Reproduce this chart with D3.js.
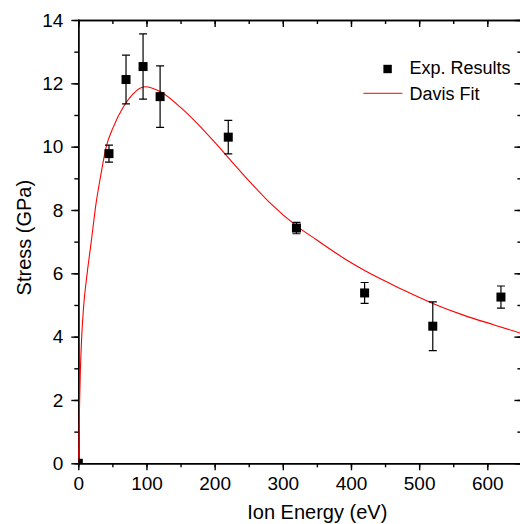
<!DOCTYPE html>
<html>
	<head>
		<meta charset="utf-8">
		<style type="text/css">
			body { margin: 0; background: #fff; font-family: "Liberation Sans", Arial, sans-serif; }
			.axis path, .axis line { stroke: black; stroke-width: 1.4; }
			.axis text { font-family: "Liberation Sans", Arial, sans-serif; font-size: 19px; fill: black; }
		</style>
		<title>Stress vs Ion Energy</title>
	</head>
	<body>
		<script src="https://cdn.jsdelivr.net/npm/d3@7"></script>
		<script>

// measured points (energy in eV, stress in GPa, error bar half-height)
var energy = [0, 45, 70, 95, 120, 220, 320, 420, 520, 620];
var stress = [0, 9.78, 12.12, 12.53, 11.58, 10.30, 7.43, 5.38, 4.33, 5.25];
var stressErr = [0, 0.27, 0.77, 1.03, 0.97, 0.53, 0.18, 0.33, 0.77, 0.35];

// Davis fit curve
var fitEnergy = [0, 1, 2, 3, 5, 8, 13, 19, 26, 33, 41, 51, 66, 80, 98, 120, 150, 175, 200, 225, 250, 280, 320, 350, 390, 420, 460, 480, 520, 565, 610, 650];
var fitStress = [0, 1.0, 2.0, 2.9, 4.0, 5.0, 6.0, 7.0, 8.2, 9.1, 10.0, 10.6, 11.25, 11.66, 11.89, 11.74, 11.24, 10.72, 10.14, 9.53, 8.93, 8.25, 7.50, 7.05, 6.47, 6.09, 5.65, 5.44, 5.05, 4.68, 4.37, 4.10];

var xTicks = [0, 100, 200, 300, 400, 500, 600];
var yTicks = [0, 2, 4, 6, 8, 10, 12, 14];
var legendLabels = ["Exp. Results", "Davis Fit"];

var margin = {top: 20, left: 78.3},
	width = 443.1,
	height = 443.3;

var x = d3.scaleLinear().domain([0, 650]).range([0, width]);
var y = d3.scaleLinear().domain([0, 14]).range([height, 0]);

var svg = d3.select('body').append('svg')
	.attr('width', 520)
	.attr('height', 524)
	.append('g')
		.attr('transform', `translate(${margin.left},${margin.top})`);

svg.append('clipPath').attr('id', 'plot-clip')
	.append('rect')
		.attr('width', width)
		.attr('height', height);

var minorX = d3.range(0, 651, 50);
var minorY = d3.range(0, 14.1, 1);

// bottom
svg.append('g').attr('class', 'axis')
	.attr('transform', `translate(0,${height})`)
	.call(d3.axisBottom(x).tickValues(minorX).tickSize(4).tickSizeOuter(0).tickFormat(''));
svg.append('g').attr('class', 'axis')
	.attr('transform', `translate(0,${height})`)
	.call(d3.axisBottom(x).tickValues(xTicks).tickSize(7).tickPadding(6).tickSizeOuter(0));
// top
svg.append('g').attr('class', 'axis')
	.call(d3.axisTop(x).tickValues(minorX).tickSize(-4).tickSizeOuter(0).tickFormat(''));
svg.append('g').attr('class', 'axis')
	.call(d3.axisTop(x).tickValues(xTicks).tickSize(-7).tickSizeOuter(0).tickFormat(''));
// left
svg.append('g').attr('class', 'axis')
	.call(d3.axisLeft(y).tickValues(minorY).tickSize(4).tickSizeOuter(0).tickFormat(''));
svg.append('g').attr('class', 'axis')
	.call(d3.axisLeft(y).tickValues(yTicks).tickSize(7).tickPadding(8).tickSizeOuter(0));
// right
svg.append('g').attr('class', 'axis')
	.attr('transform', `translate(${width},0)`)
	.call(d3.axisRight(y).tickValues(minorY).tickSize(-4).tickSizeOuter(0).tickFormat(''));
svg.append('g').attr('class', 'axis')
	.attr('transform', `translate(${width},0)`)
	.call(d3.axisRight(y).tickValues(yTicks).tickSize(-7).tickSizeOuter(0).tickFormat(''));

svg.selectAll('.axis .domain').attr('stroke-linecap', 'square');

// axis titles
svg.append('text')
	.attr('x', 239)
	.attr('y', height + 55.5)
	.attr('text-anchor', 'middle')
	.style('font-size', '20px')
	.text('Ion Energy (eV)');

svg.append('text')
	.attr('transform', `translate(${-margin.left + 31},${height / 2 - 4}) rotate(-90)`)
	.attr('text-anchor', 'middle')
	.style('font-size', '20px')
	.text('Stress (GPa)');

var plot = svg.append('g').attr('clip-path', 'url(#plot-clip)');

var fit = fitEnergy.map((e, i) => ({e: e, s: fitStress[i]}));
plot.append('path')
	.datum(fit)
	.attr('fill', 'none')
	.attr('stroke', '#ff0000')
	.attr('stroke-width', 1.1)
	.attr('d', d3.line()
		.x(d => x(d.e))
		.y(d => y(d.s))
		.curve(d3.curveMonotoneX));

var pts = energy.map((e, i) => ({e: e, s: stress[i], err: stressErr[i]}));
var bars = plot.selectAll('.err')
	.data(pts.filter(d => d.err > 0))
	.enter().append('g')
		.attr('class', 'err')
		.attr('stroke', 'black')
		.attr('stroke-width', 1.2);
bars.append('line')
	.attr('x1', d => x(d.e)).attr('x2', d => x(d.e))
	.attr('y1', d => y(d.s + d.err)).attr('y2', d => y(d.s - d.err));
bars.append('line')
	.attr('x1', d => x(d.e) - 4).attr('x2', d => x(d.e) + 4)
	.attr('y1', d => y(d.s + d.err)).attr('y2', d => y(d.s + d.err));
bars.append('line')
	.attr('x1', d => x(d.e) - 4).attr('x2', d => x(d.e) + 4)
	.attr('y1', d => y(d.s - d.err)).attr('y2', d => y(d.s - d.err));

plot.selectAll('.pt')
	.data(pts)
	.enter().append('rect')
		.attr('class', 'pt')
		.attr('x', d => x(d.e) - 4.5)
		.attr('y', d => y(d.s) - 4.5)
		.attr('width', 9)
		.attr('height', 9)
		.attr('fill', 'black');

// legend
var legend = svg.append('g')
	.attr('transform', `translate(${width - 138},49)`);
legend.append('rect')
	.attr('x', 0).attr('y', -4.2)
	.attr('width', 8.4).attr('height', 8.4)
	.attr('fill', 'black');
legend.append('line')
	.attr('x1', -20).attr('x2', 19)
	.attr('y1', 24.3).attr('y2', 24.3)
	.attr('stroke', '#ff3333')
	.attr('stroke-width', 1.2);
legend.selectAll('.lab')
	.data(legendLabels)
	.enter().append('text')
		.attr('class', 'lab')
		.attr('x', 26)
		.attr('y', (d, i) => 4.5 + i * 26)
		.style('font-size', '18px')
		.text(d => d);

		</script>
	</body>
</html>
